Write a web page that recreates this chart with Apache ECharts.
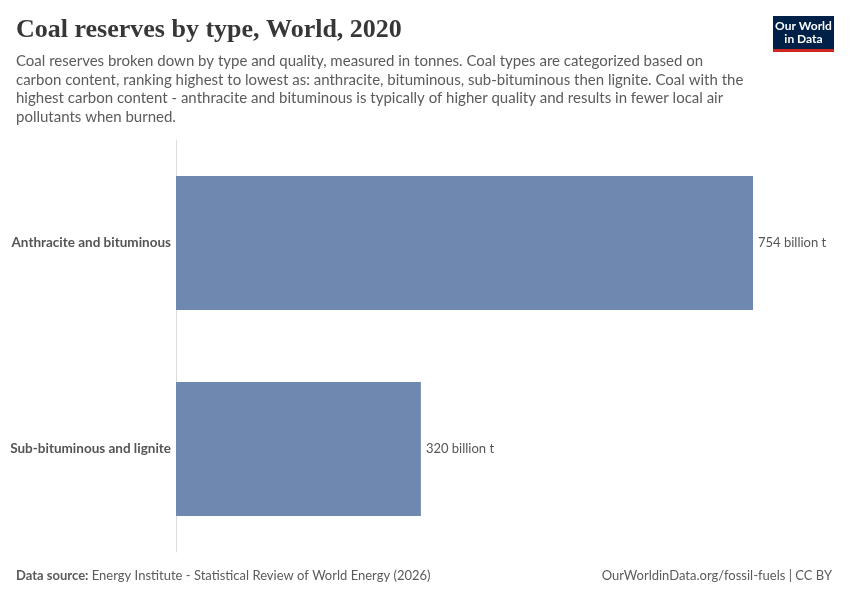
<!DOCTYPE html>
<html><head><meta charset="utf-8">
<script src="https://cdn.jsdelivr.net/npm/echarts@6/dist/echarts.min.js"></script>
<style>html,body{margin:0;padding:0;background:#fff}#c{width:850px;height:600px}</style>
</head><body><div id="c"></div>
<script>
const categories = ['Anthracite and bituminous', 'Sub-bituminous and lignite'];
const reserves = [754, 320];
const unitSuffix = ' billion t';

const chart = echarts.init(document.getElementById('c'), null, {renderer: 'canvas'});
const subtitle = 'Coal reserves broken down by type and quality, measured in tonnes. Coal types are categorized based on\ncarbon content, ranking highest to lowest as: anthracite, bituminous, sub-bituminous then lignite. Coal with the\nhighest carbon content - anthracite and bituminous is typically of higher quality and results in fewer local air\npollutants when burned.';
chart.setOption({
  animation: false,
  title: [{
    text: 'Coal reserves by type, World, 2020',
    left: 16, top: 17, padding: 0,
    textStyle: {fontFamily: '"Liberation Serif", "DejaVu Serif", serif', fontSize: 26, fontWeight: 'bold', color: '#373737'}
  }, {
    text: subtitle,
    left: 16, top: 52, padding: 0,
    textStyle: {fontFamily: 'Lato, "Noto Sans", sans-serif', fontSize: 15, fontWeight: 'normal', color: '#5b5b5b', lineHeight: 18.5}
  }],
  grid: {left: 176, right: 97, top: 140, bottom: 48, containLabel: false},
  xAxis: {type: 'value', min: 0, max: 754, show: false},
  yAxis: {
    type: 'category', data: categories, inverse: true,
    axisLine: {show: true, lineStyle: {color: '#dddddd', width: 1}},
    axisTick: {show: false},
    axisLabel: {fontFamily: 'Lato, "Noto Sans", sans-serif', fontSize: 13.5, fontWeight: 'bold', color: '#555555', margin: 5}
  },
  series: [{
    type: 'bar', data: reserves, barCategoryGap: '35%',
    itemStyle: {color: '#6f88b0'},
    label: {show: true, position: 'right', distance: 5,
      formatter: p => p.value + unitSuffix,
      fontFamily: 'Lato, "Noto Sans", sans-serif', fontSize: 13, color: '#555555'}
  }],
  graphic: [
    {type: 'rect', shape: {x: 773, y: 16, width: 61, height: 34}, style: {fill: '#002147'}},
    {type: 'rect', shape: {x: 773, y: 49, width: 61, height: 3}, style: {fill: '#ce261e'}},
    {type: 'text', x: 803.5, y: 20, style: {text: 'Our World\nin Data', align: 'center', verticalAlign: 'top', fill: '#ffffff', font: 'bold 12px Lato, "Noto Sans", sans-serif', lineHeight: 13}},
    {type: 'text', left: 16, top: 569, style: {rich: {b: {fontWeight: 'bold', fill: '#5b5b5b', fontSize: 13, fontFamily: 'Lato, "Noto Sans", sans-serif'}, n: {fill: '#5b5b5b', fontSize: 13, fontFamily: 'Lato, "Noto Sans", sans-serif'}}, text: '{b|Data source:} {n|Energy Institute - Statistical Review of World Energy (2026)}'}},
    {type: 'text', right: 18, top: 569, style: {text: 'OurWorldinData.org/fossil-fuels | CC BY', fill: '#5b5b5b', font: '13px Lato, "Noto Sans", sans-serif'}}
  ]
});
</script></body></html>
